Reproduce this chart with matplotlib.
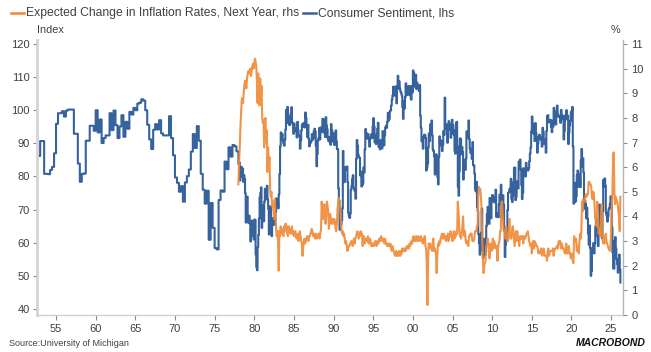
import numpy as np
import matplotlib
matplotlib.use("Agg")
import matplotlib.pyplot as plt
from matplotlib.lines import Line2D

plt.rcParams['font.family'] = ['Liberation Sans', 'DejaVu Sans']

# ---------------- data ----------------
# Consumer Sentiment, quarterly 1952Q4 - 1977Q4
sent_q_start = 1952.75
sent_quarterly = [
    86.2,
    90.7, 90.7, 80.8, 80.8,
    80.7, 82.0, 82.9, 87.0,
    95.9, 99.1, 99.1, 99.7,
    98.1, 99.9, 100.2, 100.2,
    100.2, 92.9, 92.9, 83.9,
    78.4, 80.8, 80.9, 90.8,
    90.8, 95.3, 95.3, 93.8,
    100.0, 93.3, 97.2, 90.1,
    91.6, 92.4, 92.4, 99.1,
    94.0, 99.9, 95.5, 91.6,
    95.1, 98.5, 92.0, 96.5,
    94.4, 99.5, 98.7, 100.7,
    100.0, 102.0, 102.3, 103.3,
    102.9, 100.0, 95.6, 91.2,
    88.3, 94.1, 95.8, 94.2,
    97.0, 93.0, 92.4, 92.4,
    92.4, 98.2, 91.6, 86.4,
    79.7, 78.1, 75.4, 77.1,
    72.4, 78.2, 80.1, 82.1,
    87.5, 92.8, 88.6, 95.2,
    90.8, 80.8, 76.0, 71.8,
    75.7, 60.9, 72.0, 64.5,
    58.4, 58.0, 72.9, 75.8,
    75.4, 84.5, 82.2, 88.8,
    86.0, 89.5, 89.1, 87.6,
]

# Consumer Sentiment, monthly from Jan 1978
sent_m_start = 1978.0
sent_monthly = [
    83.7, 84.3, 78.8, 81.6, 82.9, 80.0, 82.4, 78.4, 80.4, 79.3, 75.0, 66.1,   # 1978
    72.1, 73.9, 68.4, 66.0, 68.1, 65.8, 60.4, 64.5, 66.7, 62.1, 63.3, 61.0,   # 1979
    67.0, 66.9, 56.5, 52.7, 51.7, 58.7, 62.3, 67.3, 73.7, 75.0, 76.7, 64.5,   # 1980
    71.4, 66.9, 66.5, 72.4, 76.3, 73.1, 74.1, 77.2, 73.1, 70.3, 62.5, 64.3,   # 1981
    71.0, 66.5, 62.0, 65.5, 67.5, 65.7, 65.4, 65.4, 69.3, 73.4, 72.1, 71.9,   # 1982
    70.4, 74.6, 80.8, 89.1, 93.3, 92.2, 92.8, 90.9, 89.9, 89.3, 91.1, 94.2,   # 1983
    100.1, 97.4, 101.0, 96.1, 98.1, 95.5, 96.6, 99.1, 100.9, 96.3, 95.7, 92.9,  # 1984
    96.0, 93.7, 93.7, 94.6, 91.8, 96.5, 94.0, 92.4, 92.1, 88.4, 90.9, 93.9,   # 1985
    95.6, 95.9, 95.1, 96.2, 94.8, 99.3, 97.7, 94.9, 91.9, 95.6, 91.4, 89.1,   # 1986
    90.4, 90.2, 90.8, 92.8, 91.1, 91.5, 93.7, 94.4, 93.6, 89.3, 83.1, 86.8,   # 1987
    90.8, 91.6, 94.6, 91.2, 94.8, 94.7, 93.4, 97.4, 97.3, 94.1, 93.0, 91.9,   # 1988
    97.9, 95.4, 94.3, 91.5, 90.7, 90.6, 92.0, 89.6, 95.8, 93.9, 90.9, 90.5,   # 1989
    93.0, 89.5, 91.3, 93.9, 90.6, 88.3, 88.2, 76.4, 72.8, 63.9, 66.0, 65.5,   # 1990
    66.8, 70.4, 87.7, 81.8, 78.3, 82.1, 82.9, 82.0, 83.0, 78.3, 69.1, 68.2,   # 1991
    67.5, 68.8, 76.0, 77.2, 79.2, 80.4, 76.6, 76.1, 75.6, 73.3, 85.3, 91.0,   # 1992
    89.3, 86.6, 85.9, 85.6, 80.3, 81.5, 77.0, 77.3, 77.9, 82.7, 81.2, 88.2,   # 1993
    94.3, 93.2, 91.5, 92.6, 92.8, 91.2, 89.0, 91.7, 91.5, 92.7, 91.6, 95.1,   # 1994
    97.6, 95.1, 90.3, 92.5, 89.8, 92.7, 94.4, 96.2, 88.9, 90.2, 88.2, 91.0,   # 1995
    89.3, 88.5, 93.7, 92.7, 89.4, 92.4, 94.7, 95.3, 94.7, 96.5, 99.2, 96.9,   # 1996
    97.4, 99.7, 100.0, 101.4, 103.2, 104.5, 107.1, 104.4, 106.0, 105.6, 107.2, 102.1,  # 1997
    106.6, 110.4, 106.5, 108.7, 106.5, 105.6, 105.2, 104.4, 100.9, 97.4, 102.7, 100.5,  # 1998
    103.9, 108.1, 105.7, 104.6, 106.8, 107.3, 106.0, 104.5, 107.2, 103.2, 107.2, 105.4,  # 1999
    112.0, 111.3, 107.1, 109.2, 110.7, 106.4, 108.3, 107.3, 106.8, 105.8, 107.6, 98.4,  # 2000
    94.7, 90.6, 91.5, 88.4, 92.0, 92.6, 92.4, 91.5, 81.8, 82.7, 83.9, 88.8,   # 2001
    93.0, 90.7, 95.7, 93.0, 96.9, 92.4, 88.1, 87.6, 86.1, 80.6, 84.2, 86.7,   # 2002
    82.4, 79.9, 77.6, 86.0, 92.1, 89.7, 90.9, 89.3, 87.7, 89.6, 93.7, 92.6,   # 2003
    103.8, 94.4, 95.8, 94.2, 90.2, 95.6, 96.7, 95.9, 94.2, 91.7, 92.8, 97.1,  # 2004
    95.5, 94.1, 92.6, 87.7, 86.9, 96.0, 96.5, 89.1, 76.9, 74.2, 81.6, 91.5,   # 2005
    91.2, 86.7, 88.9, 87.4, 79.1, 84.9, 84.7, 82.0, 85.4, 93.6, 92.1, 91.7,   # 2006
    96.9, 91.3, 88.4, 87.1, 88.3, 85.3, 90.4, 83.4, 83.4, 80.9, 76.1, 75.5,   # 2007
    78.4, 70.8, 69.5, 62.6, 59.8, 56.4, 61.2, 63.0, 70.3, 57.6, 55.3, 60.1,   # 2008
    61.2, 56.3, 57.3, 65.1, 68.7, 70.8, 66.0, 65.7, 73.5, 70.6, 67.4, 72.5,   # 2009
    74.4, 73.6, 73.6, 72.2, 73.6, 76.0, 67.8, 68.9, 68.2, 67.7, 71.6, 74.5,   # 2010
    74.2, 77.5, 67.5, 69.8, 74.3, 71.5, 63.7, 55.7, 59.5, 60.8, 63.7, 69.9,   # 2011
    75.0, 75.3, 76.2, 76.4, 79.3, 73.2, 72.3, 74.3, 78.3, 82.6, 82.7, 72.9,   # 2012
    73.8, 77.6, 78.6, 76.4, 84.5, 84.1, 85.1, 82.1, 77.5, 73.2, 75.1, 82.5,   # 2013
    81.2, 81.6, 80.0, 84.1, 81.9, 82.5, 81.8, 82.5, 84.6, 86.9, 88.8, 93.6,   # 2014
    98.1, 95.4, 93.0, 95.9, 90.7, 96.1, 93.1, 91.9, 87.2, 90.0, 91.3, 92.6,   # 2015
    92.0, 91.7, 91.0, 89.0, 94.7, 93.5, 90.0, 89.8, 91.2, 87.2, 93.8, 98.2,   # 2016
    98.5, 96.3, 96.9, 97.0, 97.1, 95.0, 93.4, 96.8, 95.1, 100.7, 98.5, 95.9,  # 2017
    95.7, 99.7, 101.4, 98.8, 98.0, 98.2, 97.9, 96.2, 100.1, 98.6, 97.5, 98.3,  # 2018
    91.2, 93.8, 98.4, 97.2, 100.0, 98.2, 98.4, 89.8, 93.2, 95.5, 96.8, 99.3,  # 2019
    99.8, 101.0, 89.1, 71.8, 72.3, 78.1, 72.5, 74.1, 80.4, 81.8, 76.9, 80.7,  # 2020
    79.0, 76.8, 84.9, 88.3, 82.9, 85.5, 81.2, 70.3, 72.8, 71.7, 67.4, 70.6,   # 2021
    67.2, 62.8, 59.4, 65.2, 58.4, 50.0, 51.5, 58.2, 58.6, 59.9, 56.8, 59.7,   # 2022
    64.9, 67.0, 62.0, 63.7, 59.0, 64.4, 71.5, 69.4, 67.9, 63.8, 61.3, 69.7,   # 2023
    79.0, 76.9, 79.4, 77.2, 69.1, 68.2, 66.4, 67.9, 70.1, 70.5, 71.8, 74.0,   # 2024
    71.7, 64.7, 57.0, 52.2, 52.2, 60.7, 61.7, 58.2, 55.1, 53.6, 51.0, 52.9,   # 2025
    56.4, 52.0, 48.0,                                                         # 2026
]

# Expected change in inflation rates next year (%), monthly from Jan 1978
infl_start = 1978.0
infl_monthly = [
    5.3, 6.2, 6.8, 7.6, 8.2, 8.7, 8.8, 8.6, 9.0, 9.3, 9.5, 9.4,   # 1978
    9.2, 9.6, 9.8, 9.9, 9.8, 9.9, 10.0, 9.7, 9.9, 10.1, 10.2, 10.0,  # 1979
    10.2, 10.4, 10.3, 10.1, 9.5, 8.6, 9.8, 9.0, 8.5, 9.6, 8.8, 9.3,  # 1980
    8.0, 7.8, 7.9, 6.8, 7.9, 8.0, 7.0, 7.5, 5.8, 6.8, 6.0, 6.4,   # 1981
    5.1, 4.8, 5.0, 4.4, 4.6, 4.2, 3.9, 4.7, 4.0, 3.5, 3.2, 3.4,   # 1982
    3.0, 1.8, 3.4, 3.2, 3.6, 3.4, 3.3, 3.5, 3.2, 3.6, 3.4, 3.7,   # 1983
    3.7, 3.5, 3.3, 3.2, 3.6, 3.4, 3.5, 3.3, 3.4, 3.6, 3.3, 3.4,   # 1984
    3.2, 3.3, 3.4, 3.2, 3.1, 3.2, 3.3, 3.0, 3.3, 3.4, 3.2, 3.0,   # 1985
    2.9, 2.4, 2.7, 3.0, 3.1, 2.9, 3.0, 3.1, 3.2, 3.1, 3.0, 3.2,   # 1986
    3.2, 3.3, 3.4, 3.5, 3.4, 3.2, 3.3, 3.2, 3.1, 3.3, 3.2, 3.1,   # 1987
    3.2, 3.3, 3.2, 3.1, 3.3, 3.5, 4.6, 4.2, 3.9, 4.3, 4.5, 4.0,   # 1988
    3.7, 4.1, 4.6, 4.4, 4.2, 3.5, 3.8, 4.1, 3.9, 3.7, 3.9, 3.8,   # 1989
    3.7, 3.9, 3.8, 3.5, 3.4, 3.7, 4.3, 4.6, 4.75, 4.5, 4.4, 3.9,  # 1990
    3.4, 3.3, 3.4, 3.2, 3.3, 3.1, 2.9, 3.0, 2.8, 2.6, 2.7, 2.8,   # 1991
    2.8, 2.9, 2.9, 3.0, 2.9, 2.8, 3.0, 3.1, 2.9, 3.1, 3.2, 3.3,   # 1992
    3.4, 3.3, 3.1, 3.2, 3.3, 3.4, 3.2, 3.3, 2.8, 3.1, 3.2, 2.9,   # 1993
    3.1, 3.0, 3.1, 3.0, 3.2, 2.9, 3.0, 3.1, 3.0, 2.8, 2.9, 2.8,   # 1994
    2.9, 2.8, 2.9, 3.0, 2.9, 2.8, 3.0, 2.9, 2.9, 3.1, 3.0, 3.1,   # 1995
    3.2, 3.0, 3.1, 3.1, 3.0, 2.9, 3.1, 2.9, 2.9, 2.8, 2.9, 2.8,   # 1996
    2.9, 2.8, 2.9, 2.7, 2.6, 2.8, 2.7, 2.6, 2.5, 2.4, 2.5, 2.6,   # 1997
    2.4, 2.5, 2.4, 2.6, 2.5, 2.4, 2.6, 2.5, 2.7, 2.6, 2.7, 2.6,   # 1998
    2.7, 2.6, 2.7, 2.8, 2.7, 2.8, 2.7, 2.9, 2.8, 2.9, 3.0, 2.9,   # 1999
    3.1, 3.2, 3.0, 3.1, 3.0, 3.2, 3.1, 3.0, 3.2, 3.1, 3.0, 3.1,   # 2000
    3.2, 3.0, 3.1, 2.9, 3.1, 3.0, 3.2, 2.8, 2.7, 2.1, 0.4, 2.2,   # 2001
    2.9, 2.8, 2.9, 2.7, 2.8, 2.6, 2.9, 3.1, 2.6, 2.7, 2.6, 2.5,   # 2002
    1.7, 2.4, 2.9, 2.8, 3.0, 2.9, 3.1, 3.2, 3.3, 3.1, 3.2, 3.3,   # 2003
    3.1, 3.2, 3.0, 3.2, 3.1, 3.3, 3.0, 3.1, 3.2, 3.4, 3.3, 3.2,   # 2004
    3.0, 3.2, 3.4, 3.1, 3.3, 3.2, 3.4, 3.3, 4.6, 4.2, 3.7, 3.2,   # 2005
    3.3, 3.1, 3.3, 3.6, 4.0, 3.4, 3.2, 3.4, 3.0, 2.9, 3.0, 2.9,   # 2006
    2.8, 3.2, 3.2, 3.3, 3.3, 3.3, 3.0, 3.0, 3.0, 3.1, 3.4, 3.4,   # 2007
    3.4, 3.6, 3.6, 4.8, 5.2, 5.1, 5.1, 4.8, 4.3, 3.1, 2.2, 1.7,   # 2008
    2.0, 2.1, 2.2, 2.8, 2.8, 3.1, 2.9, 2.8, 2.3, 2.9, 2.7, 2.6,   # 2009
    2.8, 3.1, 2.7, 3.0, 2.9, 2.8, 2.7, 2.8, 2.2, 2.7, 2.9, 3.0,   # 2010
    3.4, 3.4, 4.6, 4.6, 4.1, 3.5, 3.4, 3.4, 3.1, 3.6, 3.2, 3.0,   # 2011
    3.0, 3.3, 3.9, 3.3, 3.1, 3.1, 3.4, 3.6, 3.4, 3.1, 2.8, 3.1,   # 2012
    3.4, 3.0, 3.4, 3.1, 3.1, 2.8, 3.2, 3.2, 3.1, 3.1, 3.2, 2.9,   # 2013
    3.2, 3.1, 3.1, 3.2, 3.3, 3.3, 3.4, 3.2, 3.0, 2.9, 2.8, 2.9,   # 2014
    2.5, 2.8, 3.0, 2.7, 3.0, 2.8, 2.9, 2.8, 2.8, 2.7, 2.5, 2.6,   # 2015
    2.5, 2.5, 2.7, 2.5, 2.4, 2.6, 2.7, 2.5, 2.4, 2.4, 2.4, 2.2,   # 2016
    2.6, 2.7, 2.4, 2.5, 2.6, 2.6, 2.6, 2.6, 2.7, 2.4, 2.6, 2.7,   # 2017
    2.7, 2.7, 2.8, 2.7, 2.9, 3.0, 2.9, 3.0, 2.7, 2.9, 2.8, 2.7,   # 2018
    2.7, 2.6, 2.5, 2.5, 2.9, 2.7, 2.5, 2.6, 2.8, 2.5, 2.5, 2.3,   # 2019
    2.5, 2.4, 2.2, 2.1, 3.2, 3.0, 3.0, 3.1, 2.6, 2.6, 2.8, 2.5,   # 2020
    3.0, 3.3, 3.1, 3.4, 4.6, 4.2, 4.7, 4.6, 4.6, 4.8, 4.9, 4.8,   # 2021
    4.9, 4.9, 5.4, 5.4, 5.3, 5.3, 5.2, 4.8, 4.7, 5.0, 4.9, 4.4,   # 2022
    3.9, 4.1, 3.6, 4.6, 4.2, 3.3, 3.4, 3.5, 3.2, 4.2, 4.5, 3.1,   # 2023
    2.9, 3.0, 2.9, 3.2, 3.3, 3.0, 2.9, 2.8, 2.7, 2.7, 2.6, 2.8,   # 2024
    3.3, 4.3, 5.0, 6.5, 6.6, 5.0, 4.5, 4.8, 4.7, 4.6, 4.5, 4.2,   # 2025
    4.0, 3.4, 4.8,                                                # 2026
]

x_ticks = list(range(1955, 2030, 5))
x_labels = ['55', '60', '65', '70', '75', '80', '85', '90', '95',
            '00', '05', '10', '15', '20', '25']
left_ticks = [40, 50, 60, 70, 80, 90, 100, 110, 120]
right_ticks = list(range(0, 12))

legend_infl = 'Expected Change in Inflation Rates, Next Year, rhs'
legend_sent = 'Consumer Sentiment, lhs'

# ---------------- build series ----------------
sent_q_dates = sent_q_start + 0.25 * np.arange(len(sent_quarterly))
sent_m_dates = sent_m_start + np.arange(len(sent_monthly)) / 12.0
sent_dates = np.concatenate([sent_q_dates, sent_m_dates])
sent_vals = np.concatenate([sent_quarterly, sent_monthly])
infl_dates = infl_start + np.arange(len(infl_monthly)) / 12.0

BLUE = '#36639e'
ORANGE = '#f08833'
TXT = '#404040'

W, H = 651, 352
fig = plt.figure(figsize=(W / 100, H / 100), dpi=100)
x0, x1, ytop, ybot = 37, 623, 40, 315
ax = fig.add_axes([x0 / W, (H - ybot) / H, (x1 - x0) / W, (ybot - ytop) / H])
ax2 = ax.twinx()

ax.plot(sent_dates, sent_vals, color=BLUE, lw=1.5, drawstyle='steps-post',
        solid_joinstyle='round', zorder=2)
ax2.plot(infl_dates, infl_monthly, color=ORANGE, lw=1.5, alpha=0.9,
         solid_joinstyle='round', zorder=3)

ax.set_xlim(1952.6, 2026.5)
ax.set_ylim(38.19, 121.2)
ax2.set_ylim(0, 11.16)

ax.set_xticks(x_ticks)
ax.set_xticklabels(x_labels)
ax.set_yticks(left_ticks)
ax2.set_yticks(right_ticks)

for s in ['top', 'right']:
    ax.spines[s].set_visible(False)
for s in ['top', 'left', 'bottom']:
    ax2.spines[s].set_visible(False)
ax.spines['left'].set_color('#d4d4d4')
ax.spines['left'].set_linewidth(2.0)
ax.spines['bottom'].set_color('#cfcfcf')
ax.spines['bottom'].set_linewidth(1.0)
ax2.spines['right'].set_color('#b5b5b5')
ax2.spines['right'].set_linewidth(1.0)

ax.tick_params(axis='y', direction='out', length=3, width=0.8, color='#8a8a8a',
               labelsize=8, labelcolor=TXT, pad=2)
ax.tick_params(axis='x', direction='out', length=3.5, width=0.8, color='#8a8a8a',
               labelsize=8, labelcolor=TXT, pad=3)
ax2.tick_params(axis='y', direction='out', length=3, width=0.8, color='#8a8a8a',
                labelsize=8, labelcolor=TXT, pad=3)

# axis unit labels
fig.text(x0 / W, 1 - 30 / H, 'Index', fontsize=7.8, color=TXT, ha='left', va='center')
fig.text(620 / W, 1 - 30 / H, '%', fontsize=7.8, color=TXT, ha='right', va='center')

# legend
ly = 1 - 13 / H
fig.add_artist(Line2D([11 / W, 24 / W], [ly, ly], color=ORANGE, lw=1.8))
fig.text(26.5 / W, ly, legend_infl, fontsize=8.7, color=TXT, ha='left', va='center')
fig.add_artist(Line2D([303 / W, 316 / W], [ly, ly], color=BLUE, lw=1.8))
fig.text(318.5 / W, ly, legend_sent, fontsize=8.7, color=TXT, ha='left', va='center')

# footer
fig.text(9 / W, 1 - 343 / H, 'Source:University of Michigan', fontsize=6.5,
         color=TXT, ha='left', va='center')
fig.text(646 / W, 1 - 343 / H, 'MACROBOND', fontsize=7.5, color='#111111',
         ha='right', va='center', fontweight='bold', fontstyle='italic')

fig.savefig('out.png', dpi=100)
